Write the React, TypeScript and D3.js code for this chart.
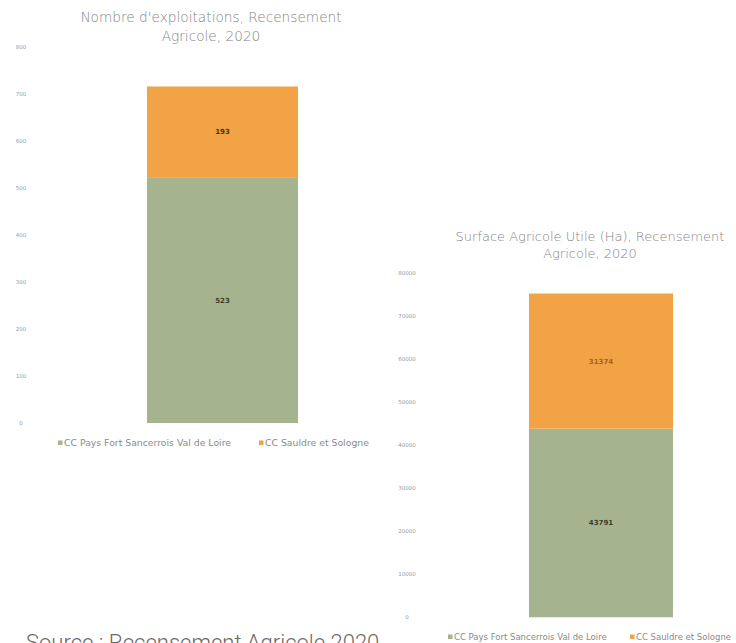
import React from "react";
import * as d3 from "d3";

const seriesNames = ["CC Pays Fort Sancerrois Val de Loire", "CC Sauldre et Sologne"];
const seriesColors = ["#a5b38f", "#f1a345"];
const exploitationsValues = [523, 193];
const exploitationsTicks = [0, 100, 200, 300, 400, 500, 600, 700, 800];
const sauValues = [43791, 31374];
const sauTicks = [0, 10000, 20000, 30000, 40000, 50000, 60000, 70000, 80000];
const titleLeft = ["Nombre d'exploitations, Recensement", "Agricole, 2020"];
const titleRight = ["Surface Agricole Utile (Ha), Recensement", "Agricole, 2020"];
const sourceText = "Source : Recensement Agricole 2020";

const FONT = "DejaVu Sans, sans-serif";

type ChartProps = {
  values: number[];
  ticks: number[];
  title: string[];
  titleX: number;
  titleY: number;
  titleSize: number;
  titleGap: number;
  axisX: number;
  yTop: number;
  yBottom: number;
  barX0: number;
  barX1: number;
  legendY: number;
  legendX: number[];
  legendSize: number;
  labelColors: string[];
};

function StackChart(p: ChartProps) {
  const y = d3
    .scaleLinear()
    .domain([0, p.ticks[p.ticks.length - 1]])
    .range([p.yBottom, p.yTop]);
  const x = d3.scaleBand().domain(["a"]).range([p.barX0, p.barX1]).padding(0);
  const stack = d3
    .stack<number[]>()
    .keys(["0", "1"])
    .value((d, k) => d[+k]);
  const stacked = stack([p.values]);
  const bx = x("a") as number;
  const bw = x.bandwidth();
  return (
    <g>
      {p.title.map((t, i) => (
        <text
          key={i}
          x={p.titleX}
          y={p.titleY + i * p.titleGap}
          textAnchor="middle"
          fontFamily={FONT}
          fontSize={p.titleSize}
          fill="#858585"
          fontWeight={300}
        >
          {t}
        </text>
      ))}
      {p.ticks.map((t) => (
        <text
          key={t}
          x={p.axisX}
          y={y(t)}
          dy="0.35em"
          textAnchor="middle"
          fontFamily={FONT}
          fontSize={5.5}
          fill="#9a9a9a"
        >
          {t}
        </text>
      ))}
      {stacked.map((s, i) => {
        const d = s[0];
        return (
          <g key={i}>
            <rect
              x={bx}
              y={y(d[1])}
              width={bw}
              height={y(d[0]) - y(d[1])}
              fill={seriesColors[i]}
            />
            <text
              x={bx + bw / 2}
              y={(y(d[0]) + y(d[1])) / 2}
              dy="0.35em"
              textAnchor="middle"
              fontFamily={FONT}
              fontSize={7}
              fontWeight="bold"
              fill={p.labelColors[i]}
            >
              {p.values[i]}
            </text>
          </g>
        );
      })}
      {seriesNames.map((n, i) => (
        <g key={n}>
          <rect
            x={p.legendX[i]}
            y={p.legendY - 2.5}
            width={4.5}
            height={4.5}
            fill={seriesColors[i]}
          />
          <text
            x={p.legendX[i] + 6}
            y={p.legendY}
            dy="0.35em"
            fontFamily={FONT}
            fontSize={p.legendSize}
            fill="#8a8a8a"
          >
            {n}
          </text>
        </g>
      ))}
    </g>
  );
}

export default function App() {
  return (
    <svg
      width={736}
      height={643}
      style={{ position: "absolute", left: 0, top: 0, background: "#fff" }}
    >
      <rect width={736} height={643} fill="#ffffff" />
      <StackChart
        values={exploitationsValues}
        ticks={exploitationsTicks}
        title={titleLeft}
        titleX={211}
        titleY={21.5}
        titleSize={13.7}
        titleGap={19}
        axisX={21}
        yTop={47}
        yBottom={423}
        barX0={147}
        barX1={298}
        legendY={443}
        legendX={[58, 259]}
        legendSize={9.3}
        labelColors={["#3d3d2a", "#4a3212"]}
      />
      <StackChart
        values={sauValues}
        ticks={sauTicks}
        title={titleRight}
        titleX={590}
        titleY={240.5}
        titleSize={13}
        titleGap={17.5}
        axisX={407}
        yTop={272.7}
        yBottom={617.3}
        barX0={529}
        barX1={673}
        legendY={637}
        legendX={[448, 630]}
        legendSize={8.5}
        labelColors={["#3d3d2a", "#a8621c"]}
      />
      <text
        x={26}
        y={650}
        fontFamily="Roboto, sans-serif"
        fontSize={22}
        fontWeight={300}
        fill="#6a6a6a"
      >
        {sourceText}
      </text>
    </svg>
  );
}
